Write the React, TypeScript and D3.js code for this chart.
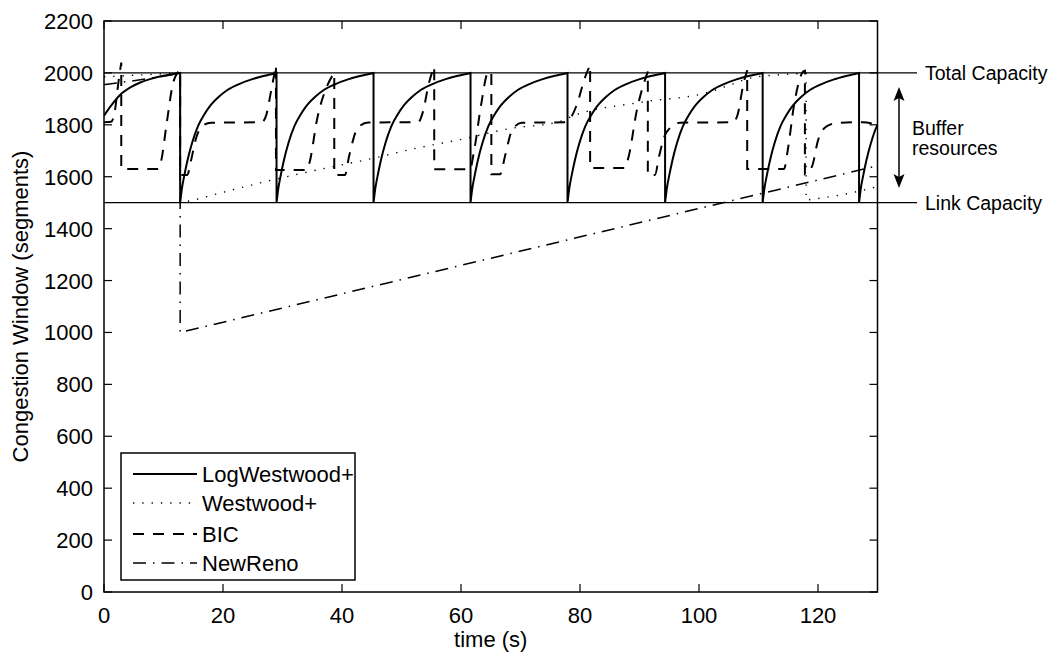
import React from "react";
import * as d3 from "d3";

const xTicks = [0, 20, 40, 60, 80, 100, 120];
const yTicks = [0, 200, 400, 600, 800, 1000, 1200, 1400, 1600, 1800, 2000, 2200];

const seriesNames = ["LogWestwood+", "Westwood+", "BIC", "NewReno"];

const logWestwood: [number, number][] = [
  [0, 1835], [1, 1868], [2.7, 1915], [4.5, 1945], [6, 1962], [8, 1978], [10, 1989], [12.8, 2000],
  [12.8, 1500], [13.1, 1555], [13.5, 1605], [14.0, 1660], [14.8, 1730], [15.8, 1795], [16.8, 1838], [17.8, 1872], [19.3, 1908], [20.8, 1935], [22.8, 1958], [24.8, 1975], [26.8, 1988], [29.0, 2000],
  [29.0, 1500], [29.3, 1555], [29.7, 1605], [30.2, 1660], [31.0, 1730], [32.0, 1795], [33.0, 1838], [34.0, 1872], [35.5, 1908], [37.0, 1935], [39.0, 1958], [41.0, 1975], [43.0, 1988], [45.3, 2000],
  [45.3, 1500], [45.6, 1555], [46.0, 1605], [46.5, 1660], [47.3, 1730], [48.3, 1795], [49.3, 1838], [50.3, 1872], [51.8, 1908], [53.3, 1935], [55.3, 1958], [57.3, 1975], [59.3, 1988], [61.6, 2000],
  [61.6, 1500], [61.9, 1555], [62.3, 1605], [62.8, 1660], [63.6, 1730], [64.6, 1795], [65.6, 1838], [66.6, 1872], [68.1, 1908], [69.6, 1935], [71.6, 1958], [73.6, 1975], [75.6, 1988], [77.9, 2000],
  [77.9, 1500], [78.2, 1555], [78.6, 1605], [79.1, 1660], [79.9, 1730], [80.9, 1795], [81.9, 1838], [82.9, 1872], [84.4, 1908], [85.9, 1935], [87.9, 1958], [89.9, 1975], [91.9, 1988], [94.3, 2000],
  [94.3, 1500], [94.6, 1555], [95.0, 1605], [95.5, 1660], [96.3, 1730], [97.3, 1795], [98.3, 1838], [99.3, 1872], [100.8, 1908], [102.3, 1935], [104.3, 1958], [106.3, 1975], [108.3, 1988], [110.7, 2000],
  [110.7, 1500], [111.0, 1555], [111.4, 1605], [111.9, 1660], [112.7, 1730], [113.7, 1795], [114.7, 1838], [115.7, 1872], [117.2, 1908], [118.7, 1935], [120.7, 1958], [122.7, 1975], [124.7, 1988], [126.9, 2000],
  [126.9, 1500], [127.2, 1555], [127.6, 1605], [128.1, 1660], [128.9, 1730], [129.9, 1795], [130.5, 1815],
];

const westwood: [number, number][] = [
  [0, 1985], [6, 1992], [12.8, 2000],
  [12.8, 1500], [14, 1505], [20, 1540], [26, 1575], [35, 1622], [45, 1670], [52.5, 1710], [60.5, 1746],
  [68, 1785], [76.5, 1812], [79, 1836], [90, 1886], [102, 1928], [105, 1952], [108.6, 1980], [113, 1992], [118, 1998],
  [118, 1510], [125, 1535], [130, 1562],
];

const bic: [number, number][] = [
  [0, 1810], [1.2, 1812], [1.8, 1850], [2.4, 1960], [2.9, 2040],
  [2.9, 1630], [9.1, 1630], [9.6, 1660], [10.5, 1800], [11.6, 1960], [12.5, 2005], [12.8, 2012],
  [12.8, 1607], [14.0, 1607], [14.6, 1660], [15.5, 1750], [16.5, 1795], [18, 1808], [26.5, 1810], [27.3, 1840], [28.0, 1920], [28.9, 2030],
  [28.9, 1626], [34.1, 1626], [34.6, 1660], [35.8, 1820], [37.5, 1950], [38.7, 2000],
  [38.7, 1607], [40.5, 1607], [41.2, 1680], [42.7, 1790], [44.4, 1809], [52.8, 1810], [53.6, 1850], [54.6, 1960], [55.5, 2025],
  [55.5, 1629], [61.5, 1629], [62.2, 1700], [63.4, 1880], [64.5, 2000], [65.1, 2005],
  [65.1, 1610], [66.6, 1610], [67.4, 1680], [68.6, 1780], [70.2, 1808], [77.2, 1810], [78.5, 1830], [79.5, 1880], [80.8, 1980], [81.7, 2030],
  [81.7, 1634], [87.5, 1634], [88.2, 1680], [89.5, 1850], [91.4, 2005],
  [91.4, 1607], [92.6, 1607], [93.3, 1680], [94.5, 1770], [96.8, 1808], [105.7, 1810], [106.5, 1840], [107.4, 1950], [108.1, 2010],
  [108.1, 1630], [114.3, 1630], [114.9, 1700], [116, 1880], [117.5, 2005], [117.8, 2008],
  [117.8, 1610], [119, 1640], [120, 1740], [121.5, 1795], [123.5, 1808], [127.5, 1810], [130, 1800],
];

const newReno: [number, number][] = [
  [0, 1955], [5, 1970], [12.8, 1998],
  [12.8, 1000], [130, 1642],
];

const W = 1059;
const H = 655;
const M = { left: 104, right: 877.5, top: 21, bottom: 592 };
const FONT = "'Liberation Sans', Arial, Helvetica, sans-serif";

export default function App() {
  const x = d3.scaleLinear().domain([0, 130]).range([M.left, M.right]);
  const y = d3.scaleLinear().domain([0, 2200]).range([M.bottom, M.top]);

  const lineGen = d3
    .line<[number, number]>()
    .x((d) => x(d[0]))
    .y((d) => y(d[1]))
    .curve(d3.curveMonotoneX);

  const buildPath = (pts: [number, number][]) => {
    const segs: [number, number][][] = [];
    let cur: [number, number][] = [pts[0]];
    for (let i = 1; i < pts.length; i++) {
      if (pts[i][0] === pts[i - 1][0]) {
        segs.push(cur);
        cur = [pts[i]];
      } else cur.push(pts[i]);
    }
    segs.push(cur);
    return segs
      .map((s, i) => {
        const p = lineGen(s) || "";
        return i > 0 ? "L" + p.slice(1) : p;
      })
      .join("");
  };

  const styles = [
    { dash: "none", width: 2 },
    { dash: "1.3,8", width: 1.4 },
    { dash: "11,9", width: 2 },
    { dash: "13,7,1.5,7", width: 1.5 },
  ];
  const datasets = [logWestwood, westwood, bic, newReno];

  const tickLen = 8;
  const legendRows = [474, 503, 534, 563];

  return (
    <svg
      width={W}
      height={H}
      style={{ position: "absolute", left: 0, top: 0, background: "#fff" }}
      fontFamily={FONT}
    >
      <defs>
        <clipPath id="plotClip">
          <rect x={M.left} y={M.top} width={M.right - M.left} height={M.bottom - M.top} />
        </clipPath>
      </defs>
      <rect x={0} y={0} width={W} height={H} fill="#fff" />

      {/* reference lines */}
      <line x1={M.left} x2={917} y1={y(2000)} y2={y(2000)} stroke="#000" strokeWidth={1.2} />
      <line x1={M.left} x2={917} y1={y(1500)} y2={y(1500)} stroke="#000" strokeWidth={1.2} />

      {/* data */}
      <g clipPath="url(#plotClip)" fill="none" stroke="#000">
        {datasets.map((d, i) => (
          <path
            key={i}
            d={buildPath(d)}
            strokeWidth={styles[i].width}
            strokeDasharray={styles[i].dash}
            strokeLinecap="butt"
          />
        ))}
      </g>

      {/* axes box */}
      <rect
        x={M.left}
        y={M.top}
        width={M.right - M.left}
        height={M.bottom - M.top}
        fill="none"
        stroke="#000"
        strokeWidth={1.5}
      />
      {/* ticks */}
      {xTicks.map((t) => (
        <g key={"x" + t}>
          <line x1={x(t)} x2={x(t)} y1={M.bottom} y2={M.bottom - tickLen} stroke="#000" strokeWidth={1.2} />
          <line x1={x(t)} x2={x(t)} y1={M.top} y2={M.top + tickLen} stroke="#000" strokeWidth={1.2} />
          <text x={x(t)} y={623} fontSize={22} textAnchor="middle">
            {t}
          </text>
        </g>
      ))}
      {yTicks.map((t) => (
        <g key={"y" + t}>
          <line x1={M.left} x2={M.left + tickLen} y1={y(t)} y2={y(t)} stroke="#000" strokeWidth={1.2} />
          <line x1={M.right} x2={M.right - tickLen} y1={y(t)} y2={y(t)} stroke="#000" strokeWidth={1.2} />
          <text x={93} y={y(t) + 8} fontSize={22} textAnchor="end">
            {t}
          </text>
        </g>
      ))}

      {/* axis labels */}
      <text x={(M.left + M.right) / 2} y={647} fontSize={22} textAnchor="middle">
        time (s)
      </text>
      <text
        transform={`translate(28,${(M.top + M.bottom) / 2}) rotate(-90)`}
        fontSize={22}
        textAnchor="middle"
      >
        Congestion Window (segments)
      </text>

      {/* annotations */}
      <text x={925} y={y(2000) + 7} fontSize={19.5}>
        Total Capacity
      </text>
      <text x={925} y={y(1500) + 7} fontSize={19.5}>
        Link Capacity
      </text>
      <text x={912} y={135} fontSize={19.5}>
        Buffer
      </text>
      <text x={912} y={155} fontSize={19.5}>
        resources
      </text>
      <line x1={899} x2={899} y1={98} y2={177} stroke="#000" strokeWidth={1.5} />
      <path d="M899,87 L893.5,101 L899,98 L904.5,101 Z" fill="#000" />
      <path d="M899,188 L893.5,174 L899,177 L904.5,174 Z" fill="#000" />

      {/* legend */}
      <rect x={121} y={453} width={234} height={127} fill="#fff" stroke="#000" strokeWidth={1.5} />
      {seriesNames.map((n, i) => (
        <g key={n}>
          <line
            x1={133}
            x2={197}
            y1={legendRows[i]}
            y2={legendRows[i]}
            stroke="#000"
            strokeWidth={styles[i].width}
            strokeDasharray={styles[i].dash}
          />
          <text x={202} y={legendRows[i] + 8} fontSize={22}>
            {n}
          </text>
        </g>
      ))}
    </svg>
  );
}
